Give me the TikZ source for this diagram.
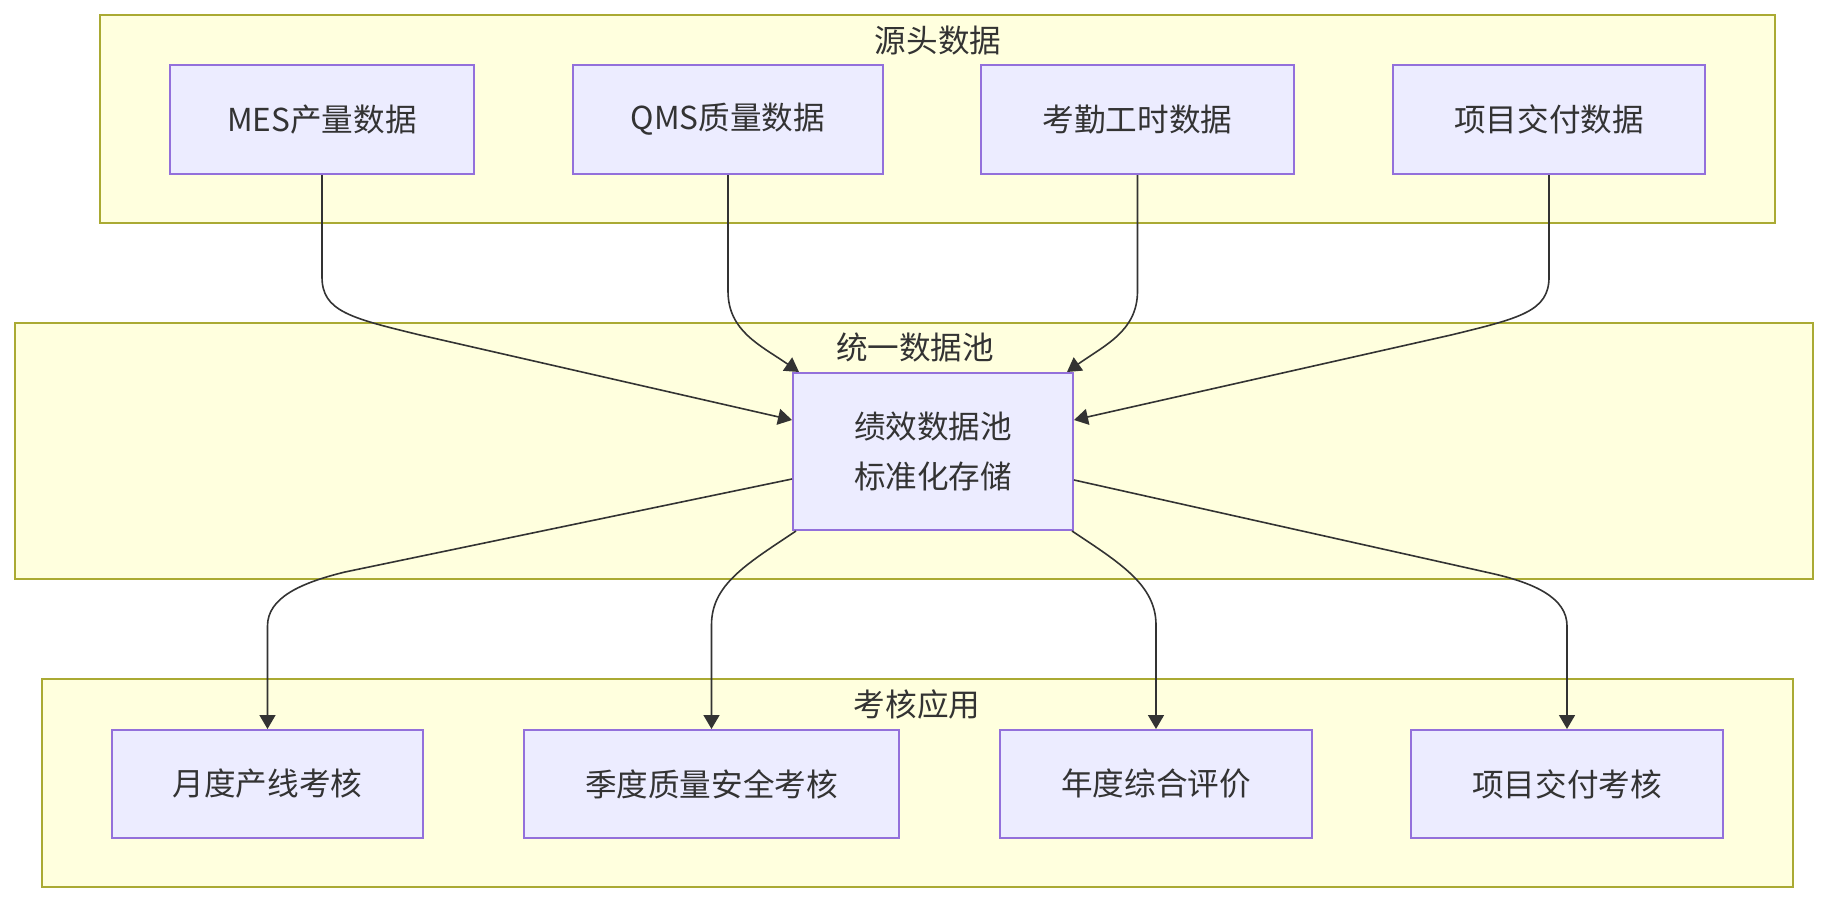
\documentclass[tikz,border=0pt]{standalone}
\usepackage{fontspec}
\setmainfont{Noto Sans CJK SC}
\usetikzlibrary{arrows.meta,calc}
\definecolor{clfill}{HTML}{FFFFDE}
\definecolor{clline}{HTML}{AAAA33}
\definecolor{ndfill}{HTML}{ECECFF}
\definecolor{ndline}{HTML}{9370DB}
\definecolor{txt}{HTML}{333333}
\definecolor{edge}{HTML}{333333}
\begin{document}
\begin{tikzpicture}[x=0.5pt,y=-0.5pt,
  every node/.style={font=\fontsize{15.8pt}{25pt}\selectfont, text=txt, inner sep=0pt},
  cluster/.style={draw=clline, fill=clfill, line width=1pt},
  box/.style={draw=ndline, fill=ndfill, line width=1pt, minimum height=54.5pt, align=center},
  conn/.style={draw=edge, line width=0.8pt, -{Triangle[length=7pt,width=8pt]}}]
\useasboundingbox (0,0) rectangle (1829,904);
% clusters
\node[cluster, minimum width=837.5pt, minimum height=104pt] (c1) at (937.5,119) {};
\node[cluster, minimum width=899pt, minimum height=128pt] (c2) at (914,451) {};
\node[cluster, minimum width=875.5pt, minimum height=104pt] (c3) at (917.5,783) {};
\node (t1) at (938,41) {源头数据};
\node (t2) at (915,347) {统一数据池};
\node (t3) at (917,704) {考核应用};
% top boxes
\node[box, minimum width=152pt] (mes) at (322,119.5) {MES产量数据};
\node[box, minimum width=155pt] (qms) at (728,119.5) {QMS质量数据};
\node[box, minimum width=156.5pt] (kq) at (1137.5,119.5) {考勤工时数据};
\node[box, minimum width=156pt] (xm) at (1549,119.5) {项目交付数据};
% pool
\node[box, minimum width=140pt, minimum height=78.5pt] (pool) at (933,451.5) {绩效数据池\\标准化存储};
% bottom boxes
\node[box, minimum width=155.5pt, minimum height=54pt] (yd) at (267.5,784) {月度产线考核};
\node[box, minimum width=187.5pt, minimum height=54pt] (jd) at (711.5,784) {季度质量安全考核};
\node[box, minimum width=156pt, minimum height=54pt] (nd) at (1156,784) {年度综合评价};
\node[box, minimum width=156pt, minimum height=54pt] (xk) at (1567,784) {项目交付考核};
% incoming edges
\draw[conn] (mes.south) -- ++(0,102) .. controls +(0,34) and (350,318) .. (420,335) -- ($(pool.west)+(0,-31.5)$);
\draw[conn] (qms.south) -- ++(0,116) .. controls +(0,40) and (760,345) .. ($(pool.north west)+(7,0)$);
\draw[conn] (kq.south) -- ++(0,116) .. controls +(0,40) and (1105,345) .. ($(pool.north east)+(-7,0)$);
\draw[conn] (xm.south) -- ++(0,102) .. controls +(0,34) and (1521,318) .. (1451,335) -- ($(pool.east)+(0,-31.5)$);
% outgoing edges
\draw[conn] ($(pool.west)+(0,27.5)$) -- (345,572) .. controls (300,583) and (267.5,598) .. (267.5,626) -- (yd.north);
\draw[conn] ($(pool.south west)+(4,0)$) .. controls (745,565) and (711.5,585) .. (711.5,625) -- (jd.north);
\draw[conn] ($(pool.south east)+(-2,0)$) .. controls (1120,563) and (1156,585) .. (1156,625) -- (nd.north);
\draw[conn] ($(pool.east)+(0,28.5)$) -- (1490,573) .. controls (1535,583) and (1567,598) .. (1567,626) -- (xk.north);
\end{tikzpicture}
\end{document}
